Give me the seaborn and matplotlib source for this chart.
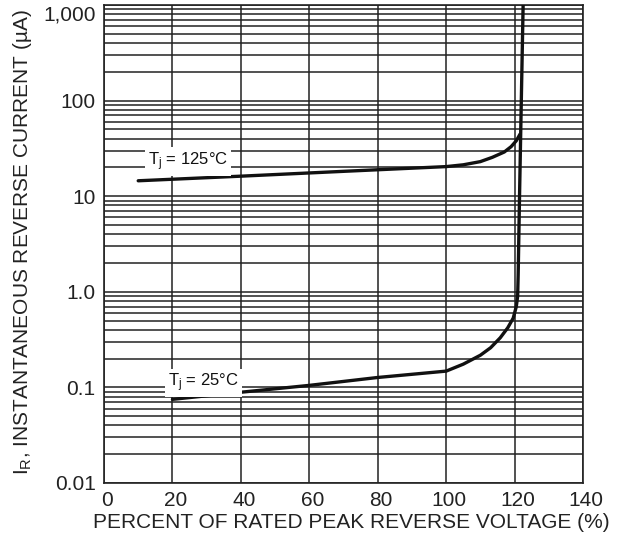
import matplotlib
matplotlib.use("Agg")
import matplotlib.pyplot as plt
import matplotlib.transforms as mtransforms
import seaborn as sns
import pandas as pd
import numpy as np
from matplotlib.ticker import FixedLocator, LogLocator, NullLocator, NullFormatter

# ---- data ----
x_125 = [10, 40, 70, 100, 105, 110, 113.5, 117, 119, 120.5, 121.6]
y_125 = [14.5, 16.2, 18.2, 20.4, 21.3, 23.0, 25.5, 29.0, 33.0, 38.0, 44.6]

x_25 = [20, 40, 60, 80, 100, 105, 110, 113, 115.8, 118, 119.6, 120.5, 120.9, 121.05, 121.45, 121.97, 122.5]
y_25 = [0.075, 0.089, 0.105, 0.127, 0.148, 0.175, 0.217, 0.26, 0.33, 0.42, 0.53, 0.70, 0.90, 1.5, 10, 100, 1000]

x_ticks = [0, 20, 40, 60, 80, 100, 120, 140]
y_ticks = [0.01, 0.1, 1.0, 10, 100, 1000]
y_tick_labels = ["0.01", "0.1", "1.0", "10", "100", "1,000"]

series_names = ["T$_\\mathregular{j}$ = 125°C", "T$_\\mathregular{j}$ = 25°C"]

df = pd.concat([
    pd.DataFrame({"x": x_125, "y": y_125, "series": series_names[0]}),
    pd.DataFrame({"x": x_25, "y": y_25, "series": series_names[1]}),
], ignore_index=True)

sns.set_style("white")
plt.rcParams["font.family"] = ["Liberation Sans", "DejaVu Sans"]
plt.rcParams["mathtext.fontset"] = "custom"
plt.rcParams["mathtext.rm"] = "Liberation Sans"
plt.rcParams["mathtext.it"] = "Liberation Sans"

fig = plt.figure(figsize=(6.27, 5.42), dpi=100)
ax = fig.add_axes([104 / 627, 1 - 483 / 542, (583 - 104) / 627, (483 - 5) / 542])

ax.set_yscale("log")
ax.set_xlim(0, 140)
ax.set_ylim(0.01, 1000)

sns.lineplot(data=df, x="x", y="y", hue="series", units="series", estimator=None,
             sort=False, palette={series_names[0]: "#111111", series_names[1]: "#111111"},
             legend=False, linewidth=2.4, ax=ax, zorder=5)

ax.xaxis.set_major_locator(FixedLocator(x_ticks))
ax.xaxis.set_minor_locator(NullLocator())
ax.set_yticks(y_ticks)
ax.set_yticklabels(y_tick_labels)
ax.yaxis.set_minor_locator(LogLocator(base=10, subs=np.arange(2, 10)))
ax.yaxis.set_minor_formatter(NullFormatter())

ax.grid(True, which="major", axis="x", color="#222222", linewidth=1.1)
ax.grid(True, which="both", axis="y", color="#222222", linewidth=1.1)
ax.set_axisbelow(True)

for s in ax.spines.values():
    s.set_color("#222222")
    s.set_linewidth(1.2)
    s.set_visible(True)

ax.tick_params(axis="both", which="both", length=0, labelsize=15, colors="#222222")
ax.tick_params(axis="y", pad=6)
ax.tick_params(axis="x", pad=6)

# small offsets seen in the reference
top_lbl = ax.get_yticklabels()[-1]
top_lbl.set_transform(top_lbl.get_transform() + mtransforms.ScaledTranslation(0, -8 / 100, fig.dpi_scale_trans))
for lbl in ax.get_xticklabels():
    lbl.set_transform(lbl.get_transform() + mtransforms.ScaledTranslation(3 / 100, 0, fig.dpi_scale_trans))

ax.set_xlabel("PERCENT OF RATED PEAK REVERSE VOLTAGE (%)", fontsize=15, color="#222222")
ax.xaxis.set_label_coords(0.516, -0.063)
ax.set_ylabel("I$_\\mathregular{R}$, INSTANTANEOUS REVERSE CURRENT (µA)", fontsize=15, color="#222222")
ax.yaxis.set_label_coords(-0.147, 0.504)

bbox = dict(facecolor="white", edgecolor="none", pad=2)
ax.text(12.8, 17.6, series_names[0], fontsize=12, ha="left", va="bottom", color="#111111", bbox=bbox, zorder=6)
ax.text(18.8, 0.085, series_names[1], fontsize=12, ha="left", va="bottom", color="#111111", bbox=bbox, zorder=6)

fig.savefig("out.png", dpi=100, facecolor="white")
